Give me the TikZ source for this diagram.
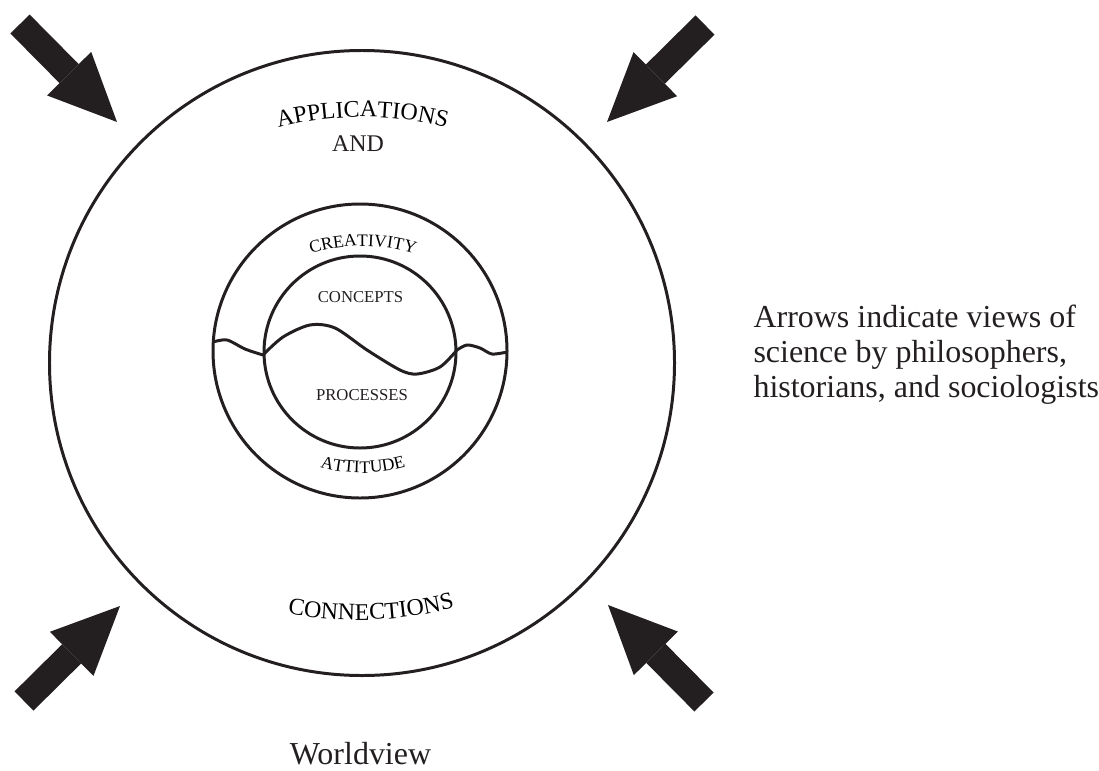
\documentclass[tikz,border=0pt]{standalone}
\usepackage{fontspec}
\setmainfont{Liberation Serif}
\usetikzlibrary{arrows.meta, decorations.text}
\definecolor{ink}{HTML}{231F20}
\newcommand\ringfont{\fontsize{13.6}{16}\selectfont}
\newcommand\bandfont{\fontsize{10}{12}\selectfont}
\tikzset{
  every picture/.style={line width=1.7pt, color=ink},
  ring/.style={circle, draw=ink, line width=1.7pt, inner sep=0pt, minimum size=#1},
  wave/.style={draw=ink, line width=1.7pt},
  bigarrow/.style={-{Triangle[length=1.36cm, width=1.24cm, line width=0pt]}, draw=ink, line width=0.54cm},
  arcword/.style={decorate, decoration={text along path, text align=center, text={#1}}},
  tag/.style={font=\fontsize{9.5}{11}\selectfont, inner sep=0pt},
  ringtext/.style={font=\ringfont, inner sep=0pt},
  note/.style={font=\fontsize{18.2}{19.9}\selectfont, inner sep=0pt, align=left},
}

\begin{document}
\begin{tikzpicture}
  \useasboundingbox (0,0) rectangle (21.98,15.4);
  % the three rings
  \node[ring=12.5cm] (outer) at (7.24,8.14) {};
  \node[ring=5.88cm] (middle) at (7.20,8.38) {};
  \node[ring=3.84cm] (inner) at (7.20,8.36) {};
  % wavy line through the middle
  \draw[wave] plot[smooth] coordinates {(4.26,8.56) (4.54,8.60) (4.90,8.42) (5.26,8.30)}
    plot[smooth] coordinates {(5.26,8.30) (5.66,8.66) (6.20,8.90) (6.70,8.84) (7.34,8.40) (8.00,8.00) (8.34,7.92) (8.80,8.06) (9.14,8.40)}
    plot[smooth] coordinates {(9.14,8.40) (9.34,8.50) (9.60,8.44) (9.84,8.32) (10.14,8.36)};
  % curved words
  \path[arcword={|\ringfont|APPLICATIONS}] (7.25,6.46) ++(110:6.6) arc[start angle=110, end angle=70, radius=6.6];
  \node[ringtext, anchor=base] (and) at (7.16,12.38) {AND};
  \path[arcword={|\bandfont|CREATIVITY}] (7.26,7.04) ++(118:3.44) arc[start angle=118, end angle=62, radius=3.44];
  \node[tag, anchor=base] (concepts) at (7.21,9.36) {CONCEPTS};
  \node[tag, anchor=base] (processes) at (7.24,7.40) {PROCESSES};
  \path[arcword={|\bandfont|ATTITUDE}] (7.26,9.14) ++(245:3.2) arc[start angle=245, end angle=295, radius=3.2];
  \path[arcword={|\ringfont|CONNECTIONS}] (7.16,10.76) ++(257:7.76) arc[start angle=257, end angle=287, radius=7.76];
  % the four outside views
  \coordinate (tl tail) at (0.40,14.92); \coordinate (tl tip) at (2.34,12.96);
  \coordinate (tr tail) at (14.10,14.90); \coordinate (tr tip) at (12.14,12.96);
  \coordinate (bl tail) at (0.48,1.38); \coordinate (bl tip) at (2.40,3.28);
  \coordinate (br tail) at (14.08,1.36); \coordinate (br tip) at (12.16,3.30);
  \foreach \c in {tl, tr, bl, br}
    \draw[bigarrow] (\c\space tail) -- (\c\space tip);
  \node[note, anchor=base west] (views) at (15.04,7.46) {Arrows indicate views of\\science by philosophers,\\historians, and sociologists};
  \node[note, anchor=base] (worldview) at (7.21,0.12) {Worldview};
\end{tikzpicture}
\end{document}
